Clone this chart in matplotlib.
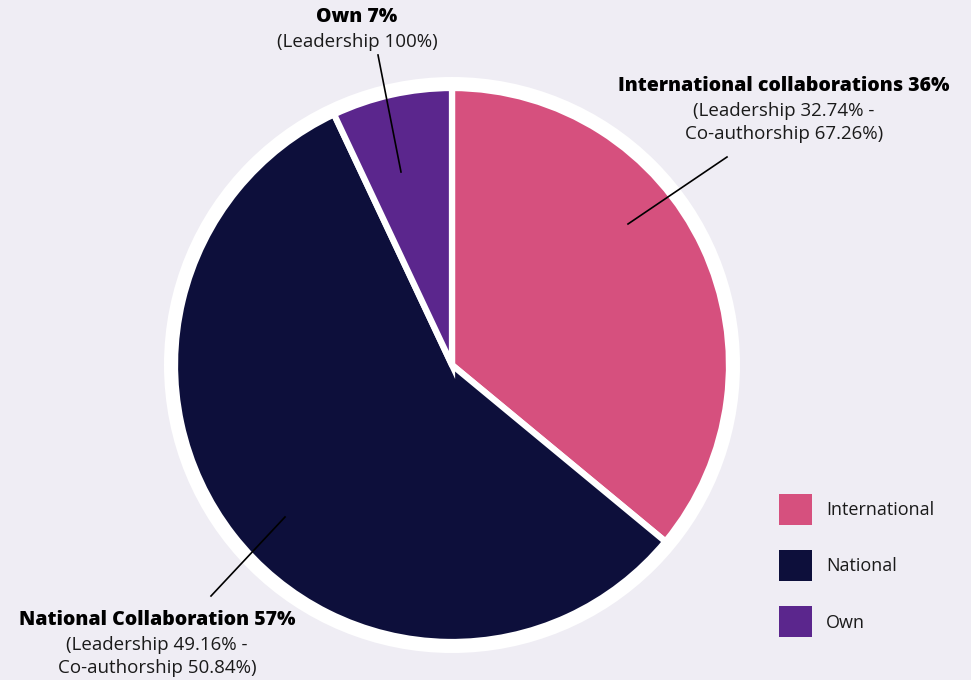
import matplotlib.pyplot as plt
from matplotlib.patches import Circle, Patch

# data
categories = ["International", "National", "Own"]
shares = [36, 57, 7]
leadership = [32.74, 49.16, 100]
coauthorship = [67.26, 50.84, None]
titles = ["International collaborations", "National Collaboration", "Own"]
colors = ["#d6507e", "#0d0f3b", "#5b268d"]
bg = "#efedf4"

plt.rcParams['font.family'] = ['Open Sans', 'DejaVu Sans']

fig = plt.figure(figsize=(9.71, 6.80), dpi=100, facecolor=bg)
ax = fig.add_axes([0, 0, 1, 1])
ax.set_facecolor(bg)

cx, cy, r = 452, 315, 277

# white ring behind the pie
ax.add_patch(Circle((cx, cy), r + 11, facecolor='white', edgecolor='none', zorder=0))

wedges, _ = ax.pie(shares, colors=colors, startangle=90, counterclock=False,
                   center=(cx, cy), radius=r, frame=True,
                   wedgeprops=dict(edgecolor='white', linewidth=4.5))
ax.set_xlim(0, 971)
ax.set_ylim(0, 680)
ax.set_aspect('equal')
ax.axis('off')

# annotation lines (pixel coords, y up)
lines = [((628, 680 - 224), (727, 680 - 157)),
         ((285, 680 - 517), (211, 680 - 596)),
         ((401, 680 - 172), (378, 680 - 55))]
for (p0, p1) in lines:
    ax.plot([p0[0], p1[0]], [p0[1], p1[1]], color='black', lw=1.2, zorder=5)

# label texts
label_pos = [(784, 680 - 86), (157, 680 - 620), (357, 680 - 17)]
for i, (x, y) in enumerate(label_pos):
    ax.text(x, y, f"{titles[i]} {shares[i]}%", ha='center', va='center',
            fontsize=14, fontweight='heavy', color='black')
    if coauthorship[i] is None:
        ax.text(x, y - 25, f"(Leadership {leadership[i]:g}%)", ha='center',
                va='center', fontsize=13.5, color='#1a1a1a')
    else:
        ax.text(x, y - 25, f"(Leadership {leadership[i]:g}% -", ha='center',
                va='center', fontsize=13.5, color='#1a1a1a')
        ax.text(x, y - 48, f"Co-authorship {coauthorship[i]:g}%)", ha='center',
                va='center', fontsize=13.5, color='#1a1a1a')

handles = [Patch(facecolor=c, edgecolor='none') for c in colors]
fig.legend(handles, categories, loc='upper left', bbox_to_anchor=(763 / 971, 1 - 478 / 680),
           frameon=False, fontsize=13, handlelength=1.8, handleheight=2.25,
           labelspacing=1.4, handletextpad=0.8, labelcolor='#1a1a1a')

fig.savefig("out.png", dpi=100, facecolor=bg)
